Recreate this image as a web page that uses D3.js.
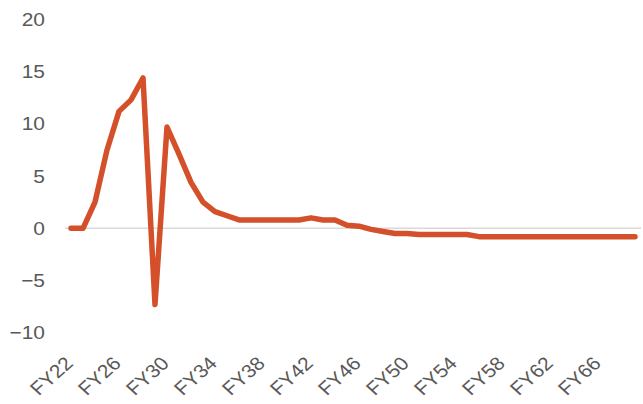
<!DOCTYPE html>
<html>
<head>
<meta charset="utf-8">
<script src="https://cdn.jsdelivr.net/npm/d3@7"></script>
<style>
  html, body { margin: 0; padding: 0; background: #ffffff; }
  svg { display: block; }
  text { font-family: "Liberation Sans", Arial, Helvetica, sans-serif; }
</style>
</head>
<body>
<svg id="chart" width="643" height="404"></svg>
<script>
const categories = [
  "FY22","FY23","FY24","FY25","FY26","FY27","FY28","FY29","FY30","FY31",
  "FY32","FY33","FY34","FY35","FY36","FY37","FY38","FY39","FY40","FY41",
  "FY42","FY43","FY44","FY45","FY46","FY47","FY48","FY49","FY50","FY51",
  "FY52","FY53","FY54","FY55","FY56","FY57","FY58","FY59","FY60","FY61",
  "FY62","FY63","FY64","FY65","FY66","FY67","FY68","FY69"
];
const values = [
  0, 0, 2.5, 7.5, 11.2, 12.3, 14.4, -7.3, 9.7, 7.1,
  4.4, 2.5, 1.6, 1.2, 0.8, 0.8, 0.8, 0.8, 0.8, 0.8,
  1.0, 0.8, 0.8, 0.3, 0.2, -0.1, -0.3, -0.5, -0.5, -0.6,
  -0.6, -0.6, -0.6, -0.6, -0.8, -0.8, -0.8, -0.8, -0.8, -0.8,
  -0.8, -0.8, -0.8, -0.8, -0.8, -0.8, -0.8, -0.8
];
const yTicks = [-10, -5, 0, 5, 10, 15, 20];
const xTickLabels = ["FY22","FY26","FY30","FY34","FY38","FY42","FY46","FY50","FY54","FY58","FY62","FY66"];

const svg = d3.select("#chart");
const plot = { left: 65, right: 641, top: 19.5, bottom: 332.7 };
const textStretch = 1.12;

const x = d3.scaleBand().domain(categories).range([plot.left, plot.right]).padding(0);
const y = d3.scaleLinear().domain([-10, 20]).range([plot.bottom, plot.top]);
const cx = d => x(d) + x.bandwidth() / 2;

// zero line
svg.append("line")
  .attr("x1", plot.left).attr("x2", plot.right)
  .attr("y1", y(0)).attr("y2", y(0))
  .attr("stroke", "#d9d9d9").attr("stroke-width", 1.5);

// y axis
const yAxis = svg.append("g")
  .attr("transform", `translate(45,0)`)
  .call(d3.axisLeft(y).tickValues(yTicks).tickSize(0).tickPadding(0).tickFormat(d3.format("d")));
yAxis.select(".domain").remove();
yAxis.selectAll("text")
  .attr("font-size", 18.7)
  .attr("fill", "#595959")
  .attr("font-family", "'Liberation Sans', Arial, sans-serif")
  .attr("transform", `scale(${textStretch},1)`);

// x axis
const xAxis = svg.append("g")
  .attr("transform", `translate(0,${plot.bottom})`)
  .call(d3.axisBottom(x).tickValues(xTickLabels).tickSize(0).tickPadding(0));
xAxis.select(".domain").remove();
xAxis.selectAll("text")
  .attr("font-size", 18.7)
  .attr("fill", "#595959")
  .attr("font-family", "'Liberation Sans', Arial, sans-serif")
  .attr("text-anchor", "end")
  .attr("dy", "0.35em")
  .attr("y", 0)
  .attr("transform", `translate(-2,27.3) scale(${textStretch},1) rotate(-45)`);

// line
const line = d3.line()
  .x((d, i) => cx(categories[i]))
  .y(d => y(d));

svg.append("path")
  .datum(values)
  .attr("d", line)
  .attr("fill", "none")
  .attr("stroke", "#D4502A")
  .attr("stroke-width", 5.5)
  .attr("stroke-linejoin", "round")
  .attr("stroke-linecap", "round");
</script>
</body>
</html>
